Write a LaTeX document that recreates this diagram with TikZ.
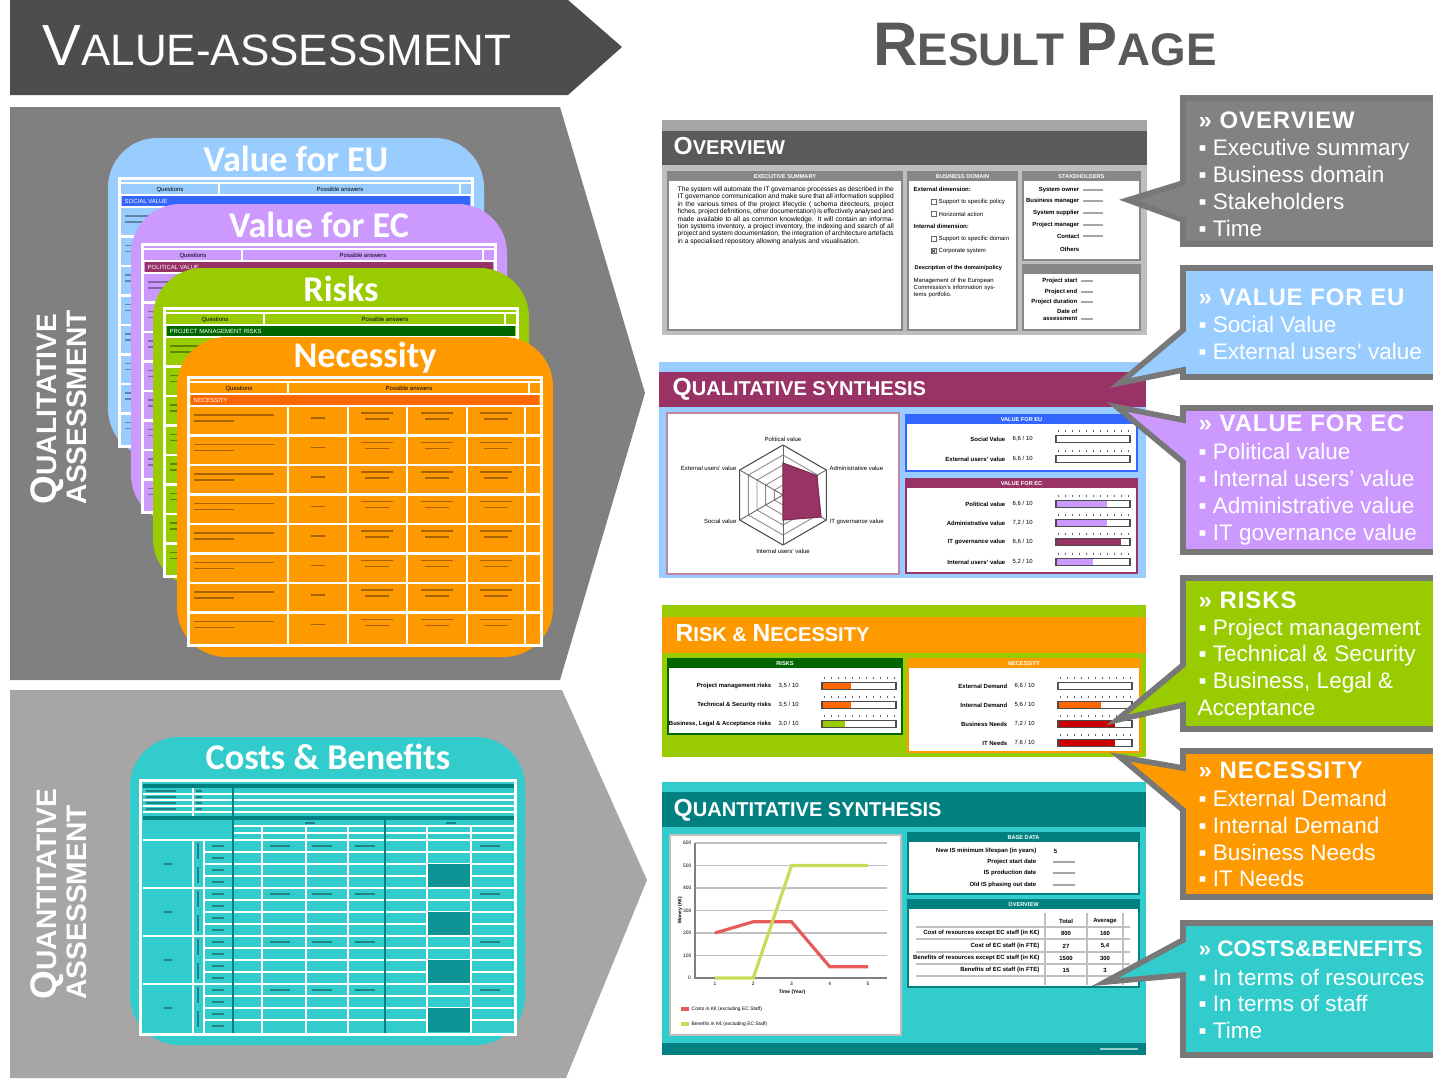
\documentclass[tikz,border=0pt]{standalone}
\usepackage{fontspec}
\setmainfont{Liberation Sans}
\newfontfamily\cardfont{Carlito}
\usetikzlibrary{positioning}
\usetikzlibrary{calc}

\definecolor{banner}{RGB}{77,77,77}
\definecolor{qualgrey}{RGB}{128,128,128}
\definecolor{quantgrey}{RGB}{166,166,166}
\definecolor{eublue}{RGB}{153,204,255}
\definecolor{ecpurple}{RGB}{204,153,255}
\definecolor{riskgreen}{RGB}{153,204,0}
\definecolor{necorange}{RGB}{255,153,0}
\definecolor{cbteal}{RGB}{51,204,204}
\definecolor{secblue}{RGB}{51,102,255}
\definecolor{secmagenta}{RGB}{153,51,102}
\definecolor{secgreen}{RGB}{0,102,0}
\definecolor{secorange}{RGB}{255,102,0}
\definecolor{needred}{RGB}{204,0,0}
\definecolor{darkteal}{RGB}{0,128,128}
\definecolor{ovdark}{RGB}{90,90,90}
\definecolor{ovlight}{RGB}{190,190,190}
\definecolor{boxhead}{RGB}{135,135,135}
\definecolor{callrim}{RGB}{120,120,120}
\definecolor{ovcall}{RGB}{130,130,130}
\definecolor{resultgrey}{RGB}{89,89,89}
\definecolor{costred}{RGB}{230,90,90}
\definecolor{benefitgreen}{RGB}{200,220,90}

% first letter of a word set larger (small caps look)
\newcommand{\leadcap}[2]{{\fontsize{#1}{#1}\selectfont #2}}

% one score line: name, y, label end, bar start, label, value, filled part, fill colour
\newcommand{\scorerow}[8]{%
  \node[rowlabel] (#1-l) at (#3,#2) {#5};
  \node[rowvalue] (#1-v) at (#3+6,#2) {#6};
  \draw[barframe] (#4,#2-3.5) rectangle ++(74,7);
  \fill[#8] (#4+0.8,#2-2.7) rectangle ++(72.4*#7,5.4);
  \foreach \k in {0,...,10} \draw[tickline] (#4+2+7*\k,#2-9.5) -- ++(0,2.5);
}

% framed box of a result page: name, corners, colour, head text
\newcommand{\subbox}[7]{%
  \draw[#6, line width=0.7pt, fill=white] (#2,#3) rectangle (#4,#5);
  \fill[#6] (#2,#3) rectangle (#4,#3+9);
  \node[headtxt] (#1) at ({(#2+#4)/2},#3+4.8) {#7};
}

\tikzset{
  titletxt/.style={text=white, font=\fontsize{12.5}{12.5}\selectfont, anchor=base west, inner sep=0},
  resulttxt/.style={text=resultgrey, font=\bfseries\fontsize{13}{13}\selectfont, anchor=base, inner sep=0},
  sidetitle/.style={text=white, font=\bfseries\fontsize{8}{8.5}\selectfont, rotate=90, anchor=west, align=left, inner sep=0},
  cardtitle/.style={text=white, font=\cardfont\bfseries\fontsize{10.3}{10.3}\selectfont, inner sep=0},
  tinytxt/.style={font=\fontsize{1.7}{2}\selectfont, inner sep=0},
  tinybold/.style={font=\bfseries\fontsize{1.7}{2}\selectfont, inner sep=0},
  headtxt/.style={text=white, font=\bfseries\fontsize{1.6}{2}\selectfont, inner sep=0},
  rowlabel/.style={tinybold, anchor=east},
  rowvalue/.style={tinytxt, anchor=west},
  barframe/.style={draw=black!70, line width=0.3pt, fill=white},
  tickline/.style={draw=black!60, line width=0.2pt},
  fakeline/.style={draw=black, draw opacity=0.35, line width=0.5pt},
  gridline/.style={draw=white, line width=0.6pt},
  paneltitle/.style={text=white, font=\bfseries\fontsize{5.7}{5.7}\selectfont, anchor=base west, inner sep=0},
  callout/.style={draw=callrim, line width=1.6pt, line join=miter},
  callhead/.style={text=white, font=\bfseries\fontsize{6.8}{6.8}\selectfont\addfontfeatures{LetterSpace=4}, anchor=base west, inner sep=0},
  callitem/.style={text=white, font=\fontsize{6.4}{6.4}\selectfont, anchor=base west, inner sep=0},
}

\begin{document}
\begin{tikzpicture}[x=0.01cm, y=-0.01cm]
    \useasboundingbox (0,0) rectangle (1433,1078);
    \fill[white] (0,0) rectangle (1433,1078);

    % left side: the assessment
    \fill[banner] (10,0) -- (568,0) -- (622,47) -- (568,95) -- (10,95) -- cycle;
    \node[titletxt] (va-title) at (42,65) {\leadcap{16.5pt}{V}ALUE-ASSESSMENT};

    \fill[qualgrey] (10,107) -- (560,107) -- (645,393) -- (560,680) -- (10,680) -- cycle;
    \fill[quantgrey] (10,690) -- (562,690) -- (647,880) -- (566,1078) -- (10,1078) -- cycle;
    \node[sidetitle] (qual-title) at (59,505) {\leadcap{10.5pt}{Q}UALITATIVE\\ASSESSMENT};
    \node[sidetitle] (quant-title) at (59,1000) {\leadcap{10.5pt}{Q}UANTITATIVE\\ASSESSMENT};

    % questionnaire cards
    \foreach \cx/\cy/\cardcol/\seccol/\ctitle/\secname/\nm in {
        108/138/eublue/secblue/Value for EU/SOCIAL VALUE/eu,
        131/204/ecpurple/secmagenta/Value for EC/POLITICAL VALUE/ec,
        153/268/riskgreen/secgreen/Risks/PROJECT MANAGEMENT RISKS/risk,
        177/337/necorange/secorange/Necessity/NECESSITY/nec}{
      \fill[\cardcol, rounded corners=14] (\cx,\cy) rectangle ++(376,320);
      \node[cardtitle] (\nm-title) at (\cx+188,\cy+21) {\ctitle};
      \fill[white] (\cx+10,\cy+39) rectangle ++(356,271);
      \fill[\cardcol] (\cx+13,\cy+42) rectangle ++(350,265);
      \fill[\seccol] (\cx+14,\cy+58) rectangle ++(348,10);
      \node[tinytxt, anchor=west, text=white] (\nm-sec) at (\cx+16,\cy+63) {\secname};
      \node[tinytxt] (\nm-q) at (\cx+62,\cy+51.5) {Questions};
      \node[tinytxt] (\nm-a) at (\cx+232,\cy+51.5) {Possible answers};
      \draw[gridline] (\cx+13,\cy+45) -- ++(350,0) (\cx+13,\cy+57) -- ++(350,0);
      \draw[gridline] (\cx+111,\cy+45) -- ++(0,12) (\cx+352,\cy+45) -- ++(0,12);
      \foreach \r in {0,...,7}{
        \draw[gridline] (\cx+13,\cy+69+29.5*\r) -- ++(350,0);
        \draw[fakeline] (\cx+17,\cy+78+29.5*\r) -- ++(80,0) (\cx+17,\cy+84+29.5*\r) -- ++(40,0);
        \draw[fakeline] (\cx+134,\cy+81+29.5*\r) -- ++(14,0);
        \foreach \c in {200,260,319}
          \draw[fakeline] (\cx+\c-16,\cy+76+29.5*\r) -- ++(32,0) (\cx+\c-12,\cy+82+29.5*\r) -- ++(24,0);
      }
      \foreach \c in {111,171,230,290,348}
        \draw[gridline] (\cx+\c,\cy+69) -- (\cx+\c,\cy+307);
    }

    % costs & benefits card
    \fill[cbteal, rounded corners=14] (130,737) rectangle (525,1045);
    \node[cardtitle] (cb-title) at (328,757) {Costs \& Benefits};
    \fill[white] (139,779) rectangle (517,1036);
    \fill[cbteal] (142,782) rectangle (514,1033);
    \fill[darkteal] (143,784) rectangle (514,788);
    \fill[darkteal] (143,816) rectangle (514,820);
    \foreach \y in {794,800,806,812}
      \draw[gridline, line width=0.4pt] (143,\y) -- (514,\y);
    \foreach \y in {791,797,803,809}
      \draw[fakeline] (146,\y) -- ++(30,0) (196,\y) -- ++(6,0);
    \draw[gridline, line width=0.4pt] (193,788) -- (193,816);
    \foreach \y in {826,833}
      \draw[gridline, line width=0.4pt] (233,\y) -- (514,\y);
    \foreach \x in {262,306,348,385,427,471}
      \draw[gridline, line width=0.4pt] (\x,826) -- (\x,840);
    \draw[fakeline] (305,823) -- ++(10,0) (446,823) -- ++(10,0);
    \foreach \g in {840,888,936,984}{
      \draw[gridline] (143,\g) -- (514,\g);
      \foreach \s in {1,2,3}
        \draw[gridline, line width=0.4pt] (204,\g+12*\s) -- (514,\g+12*\s);
      \fill[darkteal!75!cbteal] (427,\g+24) rectangle (471,\g+48);
      \draw[fakeline] (164,\g+24) -- ++(8,0);
      \draw[fakeline] (198,\g+3) -- ++(0,16) (198,\g+27) -- ++(0,16);
      \foreach \s in {0,1,2,3}
        \draw[fakeline] (212,\g+6+12*\s) -- ++(12,0);
      \foreach \x in {270,312,355,480}
        \draw[fakeline] (\x,\g+6) -- ++(20,0);
    }
    \foreach \x in {193,204,262,306,348,385,427,471}
      \draw[gridline, line width=0.4pt] (\x,840) -- (\x,1033);
    \draw[darkteal, line width=0.7pt] (233,788) -- (233,1033) (385,820) -- (385,1033);

    % right side: the result page
    \node[resulttxt] (rp-title) at (1045,65) {\leadcap{17.5pt}{R}ESULT \leadcap{17.5pt}{P}AGE};

    % overview panel
    \fill[black!35] (662,120) rectangle (1147,131);
    \fill[ovdark] (662,131) rectangle (1147,165);
    \node[paneltitle] (ov-title) at (673,154) {\leadcap{7pt}{O}VERVIEW};
    \fill[ovlight] (662,165) rectangle (1147,335);
    \subbox{ov-exec}{668}{172}{902}{330}{boxhead}{EXECUTIVE SUMMARY}
    \node[tinytxt, anchor=north west, text width=2.16cm, align=justify, font=\fontsize{1.9}{2.1}\selectfont] (ov-text) at (677,186)
      {The system will automate the IT governance processes as described in the IT governance communication and make sure that all information supplied in the various times of the project lifecycle ( schema directeurs, project fiches, project definitions, other documentation) is effectively analysed and made available to all as common knowledge. It will contain an information systems inventory, a project inventory, the indexing and search of all project and system documentation, the integration of architecture artefacts in a specialised repository allowing analysis and visualisation.};

    \subbox{ov-dom}{908}{172}{1017}{330}{boxhead}{BUSINESS DOMAIN}
    \node[tinybold, anchor=west] (dom-ext) at (913,189) {External dimension:};
    \node[tinytxt, anchor=west] (dom-pol) at (938,202) {Support to specific policy};
    \node[tinytxt, anchor=west] (dom-hor) at (938,214) {Horizontal action};
    \node[tinybold, anchor=west] (dom-int) at (913,226) {Internal dimension:};
    \node[tinytxt, anchor=west] (dom-spd) at (938,239) {Support to specific domain};
    \node[tinytxt, anchor=west] (dom-cor) at (938,251) {Corporate system};
    \foreach \y in {202,214,239,251}
      \draw[black!60, line width=0.25pt] (931,\y-2.5) rectangle ++(5,5);
    \draw[black!70, line width=0.3pt] (932,249.5) -- (935,252.5) (932,252.5) -- (935,249.5);
    \node[tinybold, anchor=west, font=\bfseries\fontsize{1.6}{2}\selectfont] (dom-desc) at (914,268) {Description of the domain/policy};
    \node[tinytxt, anchor=north west, text width=0.9cm, align=left] (dom-txt) at (913,277) {Management of the European Commission's information systems portfolio.};

    \subbox{ov-stake}{1023}{172}{1140}{260}{boxhead}{STAKEHOLDERS}
    \foreach \lbl/\y in {System owner/190, Business manager/201, System supplier/213, Project manager/225, Contact/236, Others/249}
      \node[tinybold, anchor=east] (st-\y) at (1080,\y) {\lbl};
    \foreach \y in {190,201,213,225,236}
      \draw[fakeline, line width=0.4pt] (1083,\y) -- ++(20,0);

    \subbox{ov-time}{1023}{265}{1140}{330}{boxhead}{}
    \foreach \lbl/\y in {Project start/281, Project end/292, Project duration/302, Date of/311, assessment/319}
      \node[tinybold, anchor=east] (tm-\y) at (1078,\y) {\lbl};
    \foreach \y in {281,292,302,319}
      \draw[fakeline, line width=0.4pt] (1081,\y) -- ++(12,0);

    % qualitative synthesis panel
    \fill[eublue] (659,362) rectangle (1146,578);
    \fill[secmagenta] (659,372) rectangle (1146,407);
    \node[paneltitle] (qs-title) at (672,395) {\leadcap{7pt}{Q}UALITATIVE SYNTHESIS};
    \draw[secmagenta!60, fill=white, line width=0.5pt] (667,413) rectangle (899,574);
    \coordinate (rc) at (783,495);
    \foreach \r in {10,20,30,40}
      \draw[black!45, line width=0.25pt] (rc) +(-90:\r) -- +(-30:\r) -- +(30:\r) -- +(90:\r) -- +(150:\r) -- +(210:\r) -- cycle;
    \draw[black!70, line width=0.3pt] (rc) +(-90:50) -- +(-30:50) -- +(30:50) -- +(90:50) -- +(150:50) -- +(210:50) -- cycle;
    \foreach \a in {-90,-30,30,90,150,210}
      \draw[black!60, line width=0.25pt] (rc) -- +(\a:50);
    \filldraw[fill=secmagenta, draw=secmagenta!80!black, line width=0.3pt] (rc) +(-90:32) -- +(-30:39) -- +(30:44) -- +(90:25) -- +(150:0) -- +(210:0) -- cycle;
    \node[tinytxt, anchor=south] (rd-pol) at ($(rc)+(-90:53)$) {Political value};
    \node[tinytxt, anchor=west] (rd-adm) at ($(rc)+(-30:53)$) {Administrative value};
    \node[tinytxt, anchor=west] (rd-itg) at ($(rc)+(30:53)$) {IT governance value};
    \node[tinytxt, anchor=north] (rd-int) at ($(rc)+(90:53)$) {Internal users' value};
    \node[tinytxt, anchor=east] (rd-soc) at ($(rc)+(150:53)$) {Social value};
    \node[tinytxt, anchor=east] (rd-ext) at ($(rc)+(210:53)$) {External users' value};

    \subbox{qs-eu}{906}{415}{1137}{471}{secblue}{VALUE FOR EU}
    \scorerow{su}{439}{1006}{1056}{Social Value}{6,6 / 10}{0}{white}
    \scorerow{xu}{459}{1006}{1056}{External users' value}{6,6 / 10}{0}{white}
    \subbox{qs-ec}{906}{479}{1137}{573}{secmagenta}{VALUE FOR EC}
    \scorerow{po}{504}{1006}{1056}{Political value}{6,6 / 10}{0.7}{ecpurple}
    \scorerow{ad}{523}{1006}{1056}{Administrative value}{7,2 / 10}{0.7}{ecpurple}
    \scorerow{ig}{542}{1006}{1056}{IT governance value}{6,6 / 10}{0.89}{secmagenta}
    \scorerow{iu}{562}{1006}{1056}{Internal users' value}{5,2 / 10}{0.5}{ecpurple}

    % risk & necessity panel
    \fill[riskgreen] (662,605) rectangle (1146,757);
    \fill[necorange] (662,617) rectangle (1146,653);
    \node[paneltitle] (rn-title) at (675,641) {\leadcap{7pt}{R}ISK \& \leadcap{7pt}{N}ECESSITY};
    \subbox{rn-risk}{668}{659}{902}{734}{secgreen}{RISKS}
    \scorerow{pm}{686}{772}{822}{Project management risks}{3,5 / 10}{0.39}{secorange}
    \scorerow{ts}{705}{772}{822}{Technical \& Security risks}{3,5 / 10}{0.39}{secorange}
    \scorerow{bl}{724}{772}{822}{Business, Legal \& Acceptance risks}{3,0 / 10}{0.3}{riskgreen}
    \subbox{rn-nec}{908}{659}{1140}{752}{necorange}{NECESSITY}
    \scorerow{ed}{686}{1008}{1058}{External Demand}{6,6 / 10}{0}{white}
    \scorerow{id}{705}{1008}{1058}{Internal Demand}{5,6 / 10}{0.58}{secorange}
    \scorerow{bn}{724}{1008}{1058}{Business Needs}{7,2 / 10}{0.78}{needred}
    \scorerow{it}{743}{1008}{1058}{IT Needs}{7,6 / 10}{0.78}{needred}

    % quantitative synthesis panel
    \fill[cbteal] (662,782) rectangle (1146,1055);
    \fill[darkteal] (662,792) rectangle (1146,827);
    \fill[darkteal] (662,1043) rectangle (1146,1055);
    \draw[white, draw opacity=0.6, line width=0.5pt] (1100,1049) -- (1138,1049);
    \node[paneltitle] (qt-title) at (673,816) {\leadcap{7pt}{Q}UANTITATIVE SYNTHESIS};
    \draw[black!25, fill=white, line width=0.4pt] (670,835) rectangle (901,1035);
    \foreach \v/\lab in {0/0,1/100,2/200,3/300,4/400,5/500,6/600}{
      \draw[black!25, line width=0.3pt] (695,978-22.5*\v) -- (887,978-22.5*\v);
      \node[tinytxt, anchor=east, font=\fontsize{1.4}{1.6}\selectfont] (my\v) at (692,978-22.5*\v) {\lab};
    }
    \draw[black!50, line width=0.3pt] (695,843) -- (695,978) -- (887,978);
    \foreach \i in {1,...,5}
      \node[tinytxt, font=\fontsize{1.4}{1.6}\selectfont] (tx\i) at (676.75+38.25*\i,984) {\i};
    \draw[costred, line width=0.9pt] (715,933) -- (753.25,921.75) -- (791.5,921.75) -- (829.75,966.75) -- (868,966.75);
    \draw[benefitgreen, line width=0.9pt] (715,978) -- (753.25,978) -- (791.5,865.5) -- (829.75,865.5) -- (868,865.5);
    \node[tinybold, rotate=90, font=\bfseries\fontsize{1.4}{1.6}\selectfont] (ax-y) at (680,910) {Money (K€)};
    \node[tinybold, font=\bfseries\fontsize{1.4}{1.6}\selectfont] (ax-x) at (792,992) {Time (Year)};
    \draw[costred, line width=0.9pt] (681,1009) -- (689,1009);
    \node[tinytxt, anchor=west, font=\fontsize{1.4}{1.6}\selectfont] (lg-c) at (691,1009) {Costs in K€ (excluding EC Staff)};
    \draw[benefitgreen, line width=0.9pt] (681,1024) -- (689,1024);
    \node[tinytxt, anchor=west, font=\fontsize{1.4}{1.6}\selectfont] (lg-b) at (691,1024) {Benefits in K€ (excluding EC Staff)};

    \subbox{qt-base}{908}{833}{1139}{894}{darkteal}{BASE DATA}
    \foreach \lbl/\y in {New IS minimum lifespan (in years)/851, Project start date/862, IS production date/873, Old IS phasing out date/885}
      \node[tinybold, anchor=east] (bd-\y) at (1037,\y) {\lbl};
    \node[tinybold, anchor=west] (bd-life) at (1053,851) {5};
    \foreach \y in {862,873,885}
      \draw[fakeline, line width=0.4pt] (1053,\y) -- ++(22,0);

    \subbox{qt-over}{908}{900}{1139}{987}{darkteal}{OVERVIEW}
    \node[tinybold] (qo-tot) at (1066,921) {Total};
    \node[tinybold] (qo-avg) at (1105,921) {Average};
    \foreach \lbl/\tot/\avg/\y in {Cost of resources except EC staff (in K€)/800/160/933, Cost of EC staff (in FTE)/27/{5,4}/946, Benefits of resources except EC staff (in K€)/1500/300/958, Benefits of EC staff (in FTE)/15/3/970}{
      \node[tinybold, anchor=east] (qo-\y) at (1040,\y) {\lbl};
      \node[tinybold] (qt-\y) at (1066,\y) {\tot};
      \node[tinybold] (qa-\y) at (1105,\y) {\avg};
    }
    \foreach \y in {927,939,952,964,976}
      \draw[black!25, line width=0.3pt] (916,\y) -- (1130,\y);
    \foreach \x in {1045,1087,1123}
      \draw[black!25, line width=0.3pt] (\x,913) -- (\x,985);

    % call-outs
    \foreach \nm/\ya/\yb/\pa/\pb/\tx/\ty/\fc in {
        ov/98/244/183/220/1128/200/ovcall,
        eu/268/377/330/370/1120/383/eublue,
        ec/408/552/420/462/1117/407/ecpurple,
        rk/578/729/665/705/1117/720/riskgreen,
        nd/751/897/768/810/1120/757/necorange,
        cb/923/1055/940/975/1105/982/cbteal}{
      \coordinate (\nm-tip) at (\tx,\ty);
      \draw[callout, fill=\fc] (1183,\ya) -- (1445,\ya) -- (1445,\yb) -- (1183,\yb) -- (1183,\pb) -- (\nm-tip) -- (1183,\pa) -- cycle;
    }

    \node[callhead] (ov-head) at (1198,128) {» OVERVIEW};
    \node[callitem] (ov-1) at (1198,155) {▪ Executive summary};
    \node[callitem] (ov-2) at (1198,182) {▪ Business domain};
    \node[callitem] (ov-3) at (1198,209) {▪ Stakeholders};
    \node[callitem] (ov-4) at (1198,236) {▪ Time};

    \node[callhead] (eu-head) at (1198,305) {» VALUE FOR EU};
    \node[callitem] (eu-1) at (1198,332) {▪ Social Value};
    \node[callitem] (eu-2) at (1198,359) {▪ External users' value};

    \node[callhead] (ec-head) at (1198,431) {» VALUE FOR EC};
    \node[callitem] (ec-1) at (1198,459) {▪ Political value};
    \node[callitem] (ec-2) at (1198,486) {▪ Internal users' value};
    \node[callitem] (ec-3) at (1198,513) {▪ Administrative value};
    \node[callitem] (ec-4) at (1198,540) {▪ IT governance value};

    \node[callhead] (rk-head) at (1198,608) {» RISKS};
    \node[callitem] (rk-1) at (1198,635) {▪ Project management};
    \node[callitem] (rk-2) at (1198,661) {▪ Technical \& Security};
    \node[callitem] (rk-3) at (1198,688) {▪ Business, Legal \&};
    \node[callitem] (rk-4) at (1197,715) {Acceptance};

    \node[callhead] (nd-head) at (1198,778) {» NECESSITY};
    \node[callitem] (nd-1) at (1198,806) {▪ External Demand};
    \node[callitem] (nd-2) at (1198,833) {▪ Internal Demand};
    \node[callitem] (nd-3) at (1198,860) {▪ Business Needs};
    \node[callitem] (nd-4) at (1198,886) {▪ IT Needs};

    \node[callhead, font=\bfseries\fontsize{6.4}{6.4}\selectfont] (cb-head) at (1198,956) {» COSTS\&BENEFITS};
    \node[callitem] (cb-1) at (1198,985) {▪ In terms of resources};
    \node[callitem] (cb-2) at (1198,1011) {▪ In terms of staff};
    \node[callitem] (cb-3) at (1198,1038) {▪ Time};

\end{tikzpicture}
\end{document}
